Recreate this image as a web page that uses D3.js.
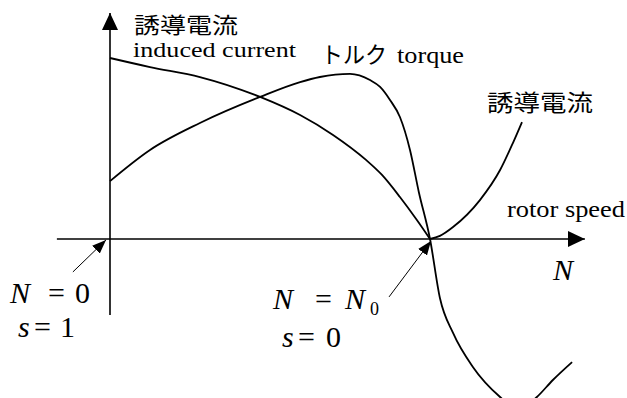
<!DOCTYPE html>
<html>
<head>
<meta charset="utf-8">
<script src="https://cdn.jsdelivr.net/npm/d3@7"></script>
</head>
<body style="margin:0;background:#fff">
<script>
var width = 627, height = 398;

// rotor speed N (N0 = 1) and curve values
var currentN   = [0, 0.125, 0.281, 0.469, 0.594, 0.697, 0.8, 0.85, 0.906, 0.959, 1.0, 1.031, 1.072, 1.156, 1.219, 1.259, 1.2875];
var currentVal = [1.0, 0.95, 0.895, 0.785, 0.685, 0.575, 0.437, 0.354, 0.232, 0.105, 0, 0.017, 0.066, 0.215, 0.381, 0.53, 0.646];
var torqueN    = [0, 0.125, 0.281, 0.469, 0.594, 0.656, 0.75, 0.8125, 0.844, 0.875, 0.906, 0.9375, 0.965, 1.0, 1.031, 1.072, 1.134, 1.219, 1.275, 1.334, 1.384, 1.444];
var torqueVal  = [0.32, 0.492, 0.641, 0.785, 0.867, 0.895, 0.912, 0.878, 0.84, 0.768, 0.674, 0.492, 0.26, 0, -0.326, -0.519, -0.707, -0.873, -0.945, -0.873, -0.779, -0.68];

var axisN   = [-0.166, 1.484];
var axisVal = [-0.42, 1.249];
// little pointers to N = 0 and N = N0
var pointerFrom = [[-0.116, -0.182], [0.872, -0.32]];
var pointerTo   = [[-0.0125, -0.005], [1.003, -0.011]];

var serif = '"Liberation Serif", "Times New Roman", Tinos, "DejaVu Serif", serif';
var gothic = '"Noto Sans CJK JP", sans-serif';

var x = d3.scaleLinear().domain([0, 1]).range([110, 430]);
var y = d3.scaleLinear().domain([0, 1]).range([239, 58]);

var svg = d3.select('body').append('svg')
  .attr('width', width)
  .attr('height', height);

var defs = svg.append('defs');
defs.append('marker')
  .attr('id', 'axisHead')
  .attr('viewBox', '0 0 17 16')
  .attr('refX', 17).attr('refY', 8)
  .attr('markerWidth', 17).attr('markerHeight', 16)
  .attr('markerUnits', 'userSpaceOnUse')
  .attr('orient', 'auto')
  .append('path').attr('d', 'M0,0L17,8L0,16Z').attr('fill', '#000');
defs.append('marker')
  .attr('id', 'smallHead')
  .attr('viewBox', '0 0 14 11')
  .attr('refX', 14).attr('refY', 5.5)
  .attr('markerWidth', 14).attr('markerHeight', 11)
  .attr('markerUnits', 'userSpaceOnUse')
  .attr('orient', 'auto')
  .append('path').attr('d', 'M0,0L14,5.5L0,11Z').attr('fill', '#000');

// axes
svg.append('line')
  .attr('x1', x(axisN[0])).attr('y1', y(0))
  .attr('x2', x(axisN[1])).attr('y2', y(0))
  .attr('stroke', '#000').attr('stroke-width', 1.6)
  .attr('marker-end', 'url(#axisHead)');
svg.append('line')
  .attr('x1', x(0)).attr('y1', y(axisVal[0]))
  .attr('x2', x(0)).attr('y2', y(axisVal[1]))
  .attr('stroke', '#000').attr('stroke-width', 1.6)
  .attr('marker-end', 'url(#axisHead)');

var line = d3.line()
  .x(function(d) { return x(d[0]); })
  .y(function(d) { return y(d[1]); });

var current = d3.zip(currentN, currentVal);
var torque = d3.zip(torqueN, torqueVal);

// current has a corner at N0, so draw both sides on their own
[current.filter(function(d) { return d[0] <= 1; }),
 current.filter(function(d) { return d[0] >= 1; })].forEach(function(part) {
  svg.append('path')
    .attr('d', line.curve(d3.curveMonotoneX)(part))
    .attr('fill', 'none')
    .attr('stroke', '#000')
    .attr('stroke-width', 1.8);
});

svg.append('path')
  .attr('d', line.curve(d3.curveMonotoneX)(torque))
  .attr('fill', 'none')
  .attr('stroke', '#000')
  .attr('stroke-width', 1.8);

svg.selectAll('.pointer')
  .data(d3.zip(pointerFrom, pointerTo))
  .enter().append('line')
  .attr('class', 'pointer')
  .attr('x1', function(d) { return x(d[0][0]); })
  .attr('y1', function(d) { return y(d[0][1]); })
  .attr('x2', function(d) { return x(d[1][0]); })
  .attr('y2', function(d) { return y(d[1][1]); })
  .attr('stroke', '#000').attr('stroke-width', 1)
  .attr('marker-end', 'url(#smallHead)');

// labels
function txt(font, size, px, py, s) {
  return svg.append('text')
    .attr('x', px).attr('y', py)
    .style('font-family', font)
    .style('font-size', size + 'px')
    .style('fill', '#000')
    .text(s);
}
function fit(t, w) {
  return t.attr('textLength', w).attr('lengthAdjust', 'spacingAndGlyphs');
}
fit(txt(gothic, 22, 134, 33, '誘導電流'), 104);
fit(txt(serif, 22, 133, 57, 'induced current'), 163);
fit(txt(gothic, 23, 321, 63, 'トルク'), 66);
fit(txt(serif, 24, 397, 63, 'torque'), 67);
fit(txt(gothic, 23, 487, 111, '誘導電流'), 106);
fit(txt(serif, 24, 507, 217, 'rotor speed'), 118);
txt(serif, 30, 553, 280, 'N').style('font-style', 'italic');

txt(serif, 30, 10, 303, 'N').style('font-style', 'italic');
txt(serif, 30, 48, 303, '=');
txt(serif, 30, 75, 303, '0');
txt(serif, 30, 18, 337, 's').style('font-style', 'italic');
txt(serif, 30, 34, 337, '=');
txt(serif, 30, 60, 337, '1');

txt(serif, 30, 273, 309, 'N').style('font-style', 'italic');
txt(serif, 30, 315, 309, '=');
txt(serif, 30, 345, 309, 'N').style('font-style', 'italic');
txt(serif, 18, 370, 315, '0');
txt(serif, 30, 282, 347, 's').style('font-style', 'italic');
txt(serif, 30, 298, 347, '=');
txt(serif, 30, 326, 347, '0');
</script>
</body>
</html>
